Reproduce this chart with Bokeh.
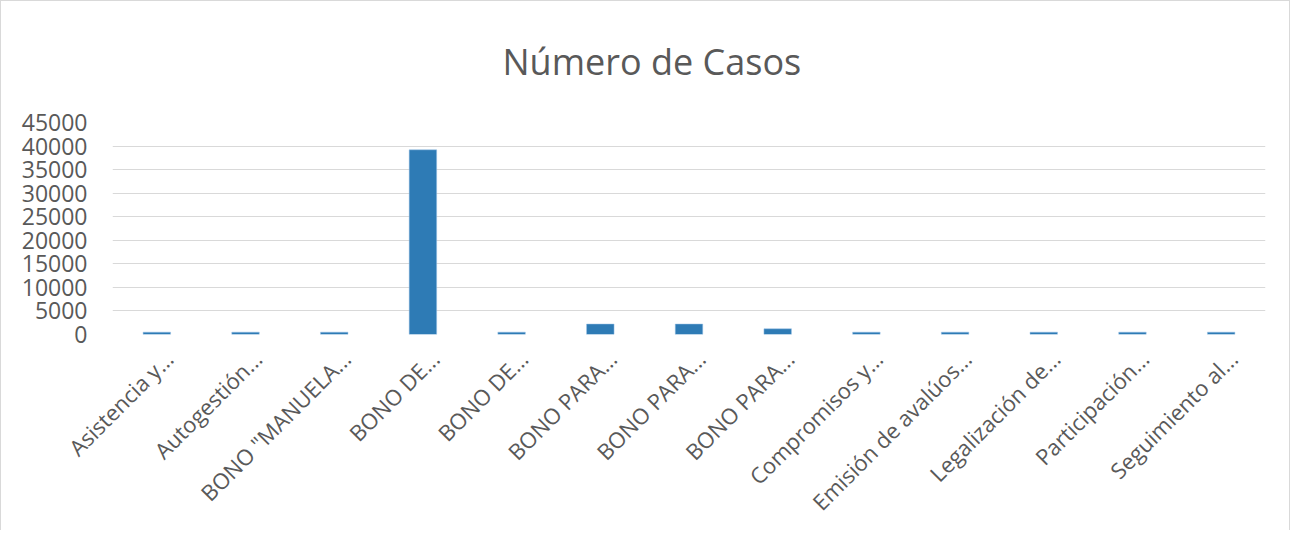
import math
from bokeh.plotting import figure
from bokeh.models import FixedTicker, Range1d, ColumnDataSource, LinearAxis
from bokeh.embed import file_html
from bokeh.resources import INLINE

categories = ["Asistencia y...", "Autogestión...", "BONO \"MANUELA...", "BONO DE...",
              "BONO DE...", "BONO PARA...", "BONO PARA...", "BONO PARA...",
              "Compromisos y...", "Emisión de avalúos...", "Legalización de...",
              "Participación...", "Seguimiento al..."]
casos = [500, 500, 500, 39200, 500, 2220, 2220, 1220, 500, 500, 500, 500, 500]
y_ticks = [0, 5000, 10000, 15000, 20000, 25000, 30000, 35000, 40000, 45000]

pos = list(range(1, len(categories) + 1))
src = ColumnDataSource(dict(x=pos, top=casos))

FONT = "Open Sans"
GREY = "#595959"
n = len(categories)
shift = 0.135  # label anchor shift, in category widths

p = figure(width=1290, height=530, output_backend="svg", toolbar_location=None,
           x_range=Range1d(0.5, n + 0.5), y_range=Range1d(0, 45000),
           x_axis_location=None,
           min_border_left=111, min_border_right=26, min_border_top=120, min_border_bottom=197,
           title="Número de Casos")
p.styles = {"border-top": "1px solid #d9d9d9", "border-left": "1px solid #d9d9d9",
            "border-right": "1px solid #d9d9d9"}
p.extra_x_ranges = {"lab": Range1d(0.5 - shift, n + 0.5 - shift)}

p.vbar(x="x", top="top", width=0.31, source=src, fill_color="#2E7BB5",
       line_color="#9DC3E6", line_width=0.5)

p.title.text_font = FONT
p.title.text_font_size = "36px"
p.title.text_font_style = "normal"
p.title.text_color = GREY
p.title.align = "left"
p.title.offset = 390
p.title.vertical_align = "top"
p.title.standoff = 70

p.outline_line_color = None
p.background_fill_color = "white"
p.border_fill_color = "white"

p.xgrid.grid_line_color = None
p.ygrid.grid_line_color = "#d9d9d9"
p.ygrid.grid_line_width = 1
p.yaxis.ticker = FixedTicker(ticks=y_ticks)

xax = LinearAxis(x_range_name="lab", ticker=FixedTicker(ticks=pos),
                 major_label_overrides={i: c for i, c in zip(pos, categories)},
                 major_label_orientation=math.pi / 4)
p.add_layout(xax, "below")

for ax in (xax, p.yaxis[0]):
    ax.axis_line_color = None
    ax.major_tick_line_color = None
    ax.minor_tick_line_color = None
    ax.major_tick_out = 0
    ax.major_tick_in = 0
    ax.minor_tick_out = 0
    ax.major_label_text_font = FONT
    ax.major_label_text_color = GREY

p.yaxis.major_label_text_font_size = "23px"
p.yaxis.major_label_standoff = 25
xax.major_label_text_font_size = "22px"
xax.major_label_standoff = 20

open("out.html", "w").write(file_html(p, INLINE))
